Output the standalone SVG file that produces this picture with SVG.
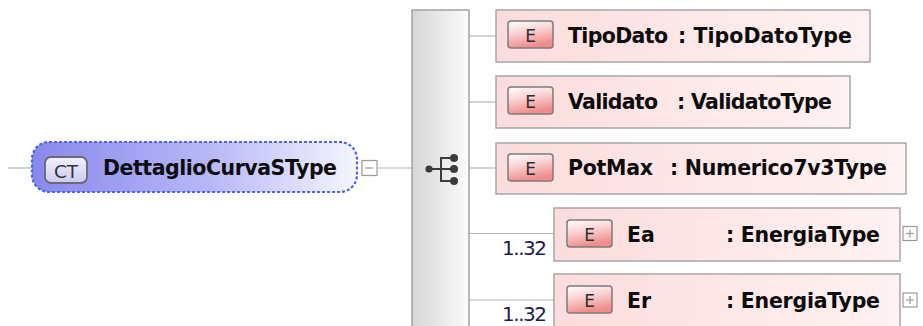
<svg xmlns="http://www.w3.org/2000/svg" width="923" height="326" viewBox="0 0 923 326">
<defs>
<linearGradient id="gCT" x1="0" y1="0" x2="1" y2="0">
<stop offset="0" stop-color="#8888ee"/>
<stop offset="0.55" stop-color="#b8b8f7"/>
<stop offset="1" stop-color="#f6f6ff"/>
</linearGradient>
<linearGradient id="gIconCT" x1="0" y1="0" x2="0" y2="1">
<stop offset="0" stop-color="#f2f2fd"/>
<stop offset="1" stop-color="#cacaf0"/>
</linearGradient>
<linearGradient id="gSeq" x1="0" y1="0" x2="1" y2="0">
<stop offset="0" stop-color="#d6d6d6"/>
<stop offset="1" stop-color="#fbfbfb"/>
</linearGradient>
<linearGradient id="gEl" x1="0" y1="0" x2="1" y2="0">
<stop offset="0" stop-color="#fcdcdc"/>
<stop offset="1" stop-color="#fff2f2"/>
</linearGradient>
<linearGradient id="gE" x1="0" y1="0" x2="0.3" y2="1">
<stop offset="0" stop-color="#ffffff"/>
<stop offset="0.45" stop-color="#fbd4d4"/>
<stop offset="1" stop-color="#f08c8c"/>
</linearGradient>
</defs>
<style>
.conn{stroke:#b4b4b4;stroke-width:1.2;fill:none}
.el{fill:url(#gEl);stroke:#a6a6a6;stroke-width:1.5}
.eicon{fill:url(#gE);stroke:#7c7c7c;stroke-width:1.5}
.eltr{font-family:"DejaVu Sans","Liberation Sans",sans-serif;font-size:17px;fill:#2e2e2e;text-anchor:middle}
.nm{font-family:"DejaVu Sans","Liberation Sans",sans-serif;font-size:20.5px;font-weight:bold;fill:#0c0c0c}
.card{font-family:"DejaVu Sans","Liberation Sans",sans-serif;font-size:20px;fill:#1c1c50}
.tog{fill:#fff;stroke:#9a9a9a;stroke-width:1.2}
.togl{stroke:#9a9a9a;stroke-width:1.2}
.seqi{fill:#3c3c3c}
.seql{stroke:#3c3c3c;stroke-width:2;fill:none}
</style>

<g id="connectors">
<line class="conn" x1="8" y1="168" x2="32" y2="168"/>
<line class="conn" x1="378" y1="168" x2="412" y2="168"/>
<line class="conn" x1="469" y1="36" x2="496" y2="36"/>
<line class="conn" x1="469" y1="102" x2="496" y2="102"/>
<line class="conn" x1="469" y1="168" x2="496" y2="168"/>
<line class="conn" x1="469" y1="233.5" x2="554" y2="233.5"/>
<line class="conn" x1="469" y1="300" x2="554" y2="300"/>
<text class="card" x="502" y="255" textLength="45">1..32</text>
<text class="card" x="502" y="321" textLength="45">1..32</text>
</g>

<g id="DettaglioCurvaSType">
<rect x="32" y="142" width="325" height="50" rx="17" fill="url(#gCT)" stroke="#4a64e6" stroke-width="2.2" stroke-dasharray="3 2"/>
<rect x="45" y="157" width="42" height="26" rx="6" fill="url(#gIconCT)" stroke="#6a6a6a" stroke-width="1.8"/>
<text x="66" y="177.5" font-family="'DejaVu Sans','Liberation Sans',sans-serif" font-size="18.5" fill="#333" text-anchor="middle">CT</text>
<text class="nm" x="103" y="175" textLength="234">DettaglioCurvaSType</text>
<rect class="tog" x="362" y="160.5" width="15" height="15"/>
<line class="togl" x1="365.5" y1="168" x2="373.5" y2="168"/>
</g>

<g id="sequence">
<rect x="412" y="10" width="57" height="330" fill="url(#gSeq)" stroke="#a2a2a2" stroke-width="1.5"/>
<line class="seql" x1="429" y1="169" x2="454" y2="169"/>
<path class="seql" d="M454 158 H441 V181 H454"/>
<circle class="seqi" cx="429" cy="169" r="3.6"/>
<circle class="seqi" cx="454" cy="158" r="4"/>
<circle class="seqi" cx="454" cy="169" r="4"/>
<circle class="seqi" cx="454" cy="181" r="4"/>
</g>

<g id="TipoDato">
<rect class="el" x="496" y="10" width="374" height="52"/>
<rect class="eicon" x="508" y="21" width="45" height="27" rx="3"/>
<text class="eltr" x="530.5" y="42">E</text>
<text class="nm" x="568" y="43" textLength="100">TipoDato</text>
<text class="nm" x="678" y="43" textLength="174">: TipoDatoType</text>
</g>

<g id="Validato">
<rect class="el" x="496" y="76" width="354" height="52"/>
<rect class="eicon" x="508" y="87" width="45" height="27" rx="3"/>
<text class="eltr" x="530.5" y="108">E</text>
<text class="nm" x="568" y="109" textLength="90">Validato</text>
<text class="nm" x="677" y="109" textLength="155">: ValidatoType</text>
</g>

<g id="PotMax">
<rect class="el" x="496" y="143" width="410" height="51"/>
<rect class="eicon" x="508" y="154" width="45" height="27" rx="3"/>
<text class="eltr" x="530.5" y="175">E</text>
<text class="nm" x="568" y="175" textLength="85">PotMax</text>
<text class="nm" x="670" y="175" textLength="217">: Numerico7v3Type</text>
</g>

<g id="Ea">
<rect class="el" x="554" y="208" width="346" height="53"/>
<rect class="eicon" x="567" y="220" width="45" height="27" rx="3"/>
<text class="eltr" x="589.5" y="241">E</text>
<text class="nm" x="627" y="242">Ea</text>
<text class="nm" x="726" y="242" textLength="154">: EnergiaType</text>
<rect class="tog" x="903" y="226.5" width="14" height="14"/>
<line class="togl" x1="906" y1="233.5" x2="914" y2="233.5"/>
<line class="togl" x1="910" y1="229.5" x2="910" y2="237.5"/>
</g>

<g id="Er">
<rect class="el" x="554" y="274" width="346" height="60"/>
<rect class="eicon" x="567" y="286" width="45" height="27" rx="3"/>
<text class="eltr" x="589.5" y="307">E</text>
<text class="nm" x="627" y="308">Er</text>
<text class="nm" x="726" y="308" textLength="154">: EnergiaType</text>
<rect class="tog" x="903" y="293" width="14" height="14"/>
<line class="togl" x1="906" y1="300" x2="914" y2="300"/>
<line class="togl" x1="910" y1="296" x2="910" y2="304"/>
</g>
</svg>
